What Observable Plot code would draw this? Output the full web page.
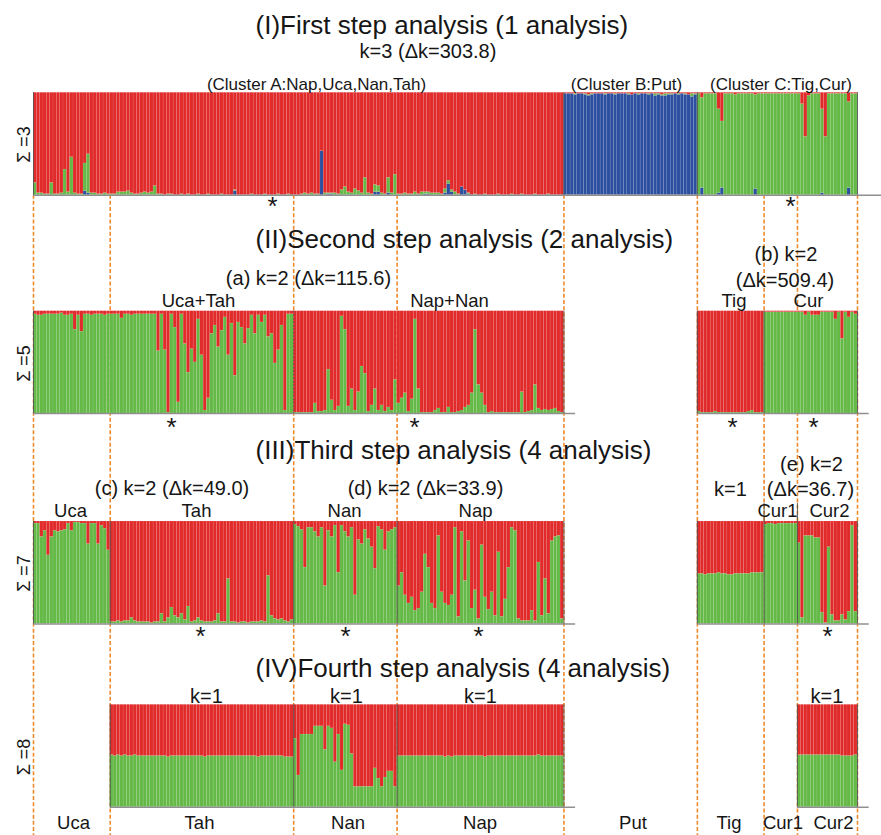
<!DOCTYPE html>
<html>
<head>
<meta charset="utf-8">
<script src="https://cdn.jsdelivr.net/npm/d3@7"></script>
<script src="https://cdn.jsdelivr.net/npm/@observablehq/plot@0.6"></script>
<style>html,body{margin:0;padding:0;background:#fff;overflow:hidden}</style>
</head>
<body>
<div id="chart"></div>
<script>
// ---------------- DATA ----------------
const populations = ["Uca", "Tah", "Nan", "Nap", "Put", "Tig", "Cur1", "Cur2"];
const popSizes = [23, 55, 31, 50, 40, 20, 10, 18];

// Step I (K=3), percent membership per individual (red = remainder)
const step1Green = [
  12,2,2,1,1,12,1,1,2,25, 3,37,2,1,1,27,38,2,2,1, 1,2,1,1,1,3,3,3,4,2, 1,1,2,3,2,3,9,1,
  1,0,1,1,0,0,1,0,1,0, 0,1,0,0,1,0,0,0,1,0, 0,0,1,0,0,0,0,1,0,0, 0,1,0,0,0,1,0,0,1,0, 0,0,
  1,2,1,2,1,1,0,2,1,1, 2,1,5,8,3,2,6,4,2,17, 2,1,7,6,2,1,15,2,20,1, 1,2,1,1,3,1,3,2,2,2, 2,2,1,4,3,2,3,1,0,0, 1,
  0,1,0,0,1,0,0,0,1,0, 0,0,1,0,0,1,0,0,0,1, 0,0,0,1,0,0,0,0,
  0,0,0,1,0,0,1,1,1,0, 0,0,1,0,0,1,0,0,0,1, 0,0,1,0,0,1,0,2,1,1, 2,1,1,0,1,0,1,0,3,1,
  99,88,99,99,99,99,82,65,99,99, 99,98,99,99,99,99,99,92,99,99, 99,99,99,99,99,99,99,99,99,99,
  99,89,57,97,99,99,99,82,57,99, 99,99,99,99,99,84,99,99
];
const step1Blue = [
  0,0,0,0,0,0,0,0,0,0, 0,0,0,0,0,4,2,0,0,0, 0,0,0,0,0,0,0,0,0,0, 0,0,0,0,0,0,0,0,0,0,
  0,0,0,0,0,0,0,0,0,0, 0,0,0,0,0,0,0,0,0,0, 4,0,0,0,0,0,0,0,0,0, 0,0,0,0,0,0,0,0,0,0,
  0,0,0,0,0,0,43,0,1,1, 0,0,0,0,0,0,0,0,0,0, 0,0,3,3,0,0,2,0,0,0, 0,0,0,0,0,0,0,1,1,0,
  0,0,0,2,11,3,0,0,8,5, 1,0,0,0,0,0,0,0,0,0, 0,0,0,0,0,0,0,0,0,0, 0,0,0,0,0,0,0,0,0,
  99,99,99,98,99,99,98,97,98,99, 99,99,98,99,99,98,99,99,99,98, 98,99,98,99,99,98,99,97,98,97, 97,98,98,99,98,99,98,98,96,98,
  0,7,0,0,0,0,2,7,0,0, 0,0,0,0,0,0,0,6,0,0, 0,0,0,0,0,0,0,0,0,0, 0,0,0,0,0,0,0,2,0,0, 0,0,0,0,0,7,0,0
];

// Step II (K=2), green percent
const step2UcaTah = [97,96,96,97,97,97,97,97,98,96, 96,97,82,96,80,97,97,96,97,97, 97,96,97,97,97,97,93,97,97,96,
  97,97,97,97,97,97,97,61,97,62, 1,97,84,11,97,68,40,63,50,92, 57,3,15,78,86,65,81,94,57,88,
  37,89,84,68,83,96,78,96,89,96, 75,78,49,62,86,3,97,97];
const step2NanNap = [1,1,1,1,1,1,10,2,2,3, 43,13,3,7,95,82,7,24,3,21, 46,39,2,8,24,3,8,2,6,3,
  33,10,15,20,2,14,92,24,1,1, 1,1,3,5,1,1,6,1,1,2, 3,6,8,20,82,28,20,8,1,2,
  1,1,1,1,1,1,1,1,21,1, 2,3,28,5,3,4,3,4,5,2, 1];
const step2Tig = [2,1,1,1,1,2,1,1,1,1, 1,1,1,1,1,2,3,1,1,1];
const step2Cur = [99,99,99,99,99,99,99,99,99,99, 99,99,96,99,96,96,96,99,99,99, 99,92,99,73,99,94,99,97];

// Step III, green percent
const step3Uca = [98,98,85,91,67,85,91,90,91,92, 98,91,99,99,98,98,78,98,98,78, 96,93,72];
const step3Tah = [2,2,3,2,3,3,6,3,2,2, 2,2,1,2,2,10,2,6,16,8, 6,10,4,17,2,3,6,3,2,2,
  2,3,10,2,2,44,2,2,1,2, 2,1,2,2,2,3,2,47,8,5, 4,5,3,2,4];
const step3Nan = [97,95,92,55,94,94,90,85,94,37, 91,85,96,50,96,90,85,94,28,82, 78,92,83,75,54,95,92,72,90,92, 94];
const step3Nap = [37,50,28,20,26,13,15,31,68,55, 20,15,86,31,20,18,28,94,7,90, 42,81,15,33,5,77,26,14,31,8,
  70,7,24,55,94,91,5,3,3,3, 13,3,60,8,44,10,81,85,86,5];
const step3Tig = [49,49,48,49,49,49,50,49,49,48, 48,49,49,49,49,49,50,50,50,50];
const step3Cur1 = [97,98,98,97,98,98,98,98,98,98];
const step3Cur2 = [79,6,86,86,86,84,84,11,1,75, 9,3,3,9,4,12,96,12];

// Step IV (K=1), green percent
const step4Tah = [51,50,51,50,51,50,50,51,50,50, 50,50,50,50,50,50,50,49,50,50, 50,50,50,50,50,50,50,50,49,50,
  50,50,50,50,50,50,50,50,50,50, 50,50,50,50,49,50,50,50,50,50, 50,50,49,49,49];
const step4Nan = [67,31,71,71,71,71,79,79,79,56, 79,77,44,71,36,81,80,52,20,20, 20,20,20,20,38,28,20,29,35,35, 20];
const step4Nap = [50,50,50,50,50,50,50,50,50,50, 50,50,50,50,49,50,49,50,50,50, 50,50,50,50,50,50,49,50,50,50,
  50,50,50,50,50,50,50,50,50,50, 50,50,51,50,50,50,50,50,50,50];
const step4Cur2 = [51,51,51,51,51,51,51,51,51,51, 51,51,51,50,50,50,50,51];

// analyses: row, first population of block, values
const blocks = [
  [1, "Uca", step2UcaTah], [1, "Nan", step2NanNap], [1, "Tig", step2Tig], [1, "Cur1", step2Cur],
  [2, "Uca", step3Uca], [2, "Tah", step3Tah], [2, "Nan", step3Nan], [2, "Nap", step3Nap],
  [2, "Tig", step3Tig], [2, "Cur1", step3Cur1], [2, "Cur2", step3Cur2],
  [3, "Tah", step4Tah], [3, "Nan", step4Nan], [3, "Nap", step4Nap], [3, "Cur2", step4Cur2]
];
const rowEdges = [
  ["Uca", "Put", "Tig", "end"],
  ["Uca", "Put", "Tig", "Cur1", "end"],
  ["Uca", "Tah", "Nan", "Nap", "Put", "Tig", "Cur1", "Cur2", "end"],
  ["Tah", "Nan", "Nap", "Put", "Cur2", "end"]
];
const rowDottedEdges = [[], ["Nan"], [], []];
const rowBases = [
  [["Uca", "edge"]],
  [["Uca", "Put"], ["Tig", "end"]],
  [["Uca", "Put"], ["Tig", "end"]],
  [["Tah", "Put"], ["Cur2", "end"]]
];

// ---------------- LAYOUT (row tops in row-height units) ----------------
const rowTop = [0.901, 3.034, 5.088, 6.878];
const yMax = 835 / 102.4;

// ---------------- BUILD ----------------
const popStart = {};
let acc = 0;
populations.forEach((p, i) => { popStart[p] = acc; acc += popSizes[i]; });
popStart.end = acc;
const N = acc;
popStart.edge = N + 7.3;

const yOf = (row, pct) => rowTop[row] + 1 - pct / 100;
const segs = [];
function push(row, i, lo, hi, k) {
  if (hi > lo) segs.push({x1: i, x2: i + 1, y1: yOf(row, lo), y2: yOf(row, hi), k});
}
for (let i = 0; i < N; i++) {
  const b = step1Blue[i], g = step1Green[i];
  push(0, i, 0, b, "K3");
  push(0, i, b, b + g, "K2");
  push(0, i, b + g, 100, "K1");
}
for (const [row, pop, vals] of blocks) {
  const s = popStart[pop];
  vals.forEach((g, j) => {
    push(row, s + j, 0, g, "K2");
    push(row, s + j, g, 100, "K1");
  });
}
const edges = rowEdges.flatMap((list, row) => list.map(p => ({x: popStart[p], row})));
const dotted = rowDottedEdges.flatMap((list, row) => list.map(p => ({x: popStart[p], row})));
const bases = rowBases.flatMap((list, row) => list.map(([a, b]) => ({a: popStart[a], b: popStart[b] + (b === "edge" ? 0 : 3.5), row})));
const orangeAt = populations.map(p => popStart[p]).concat([N]);

const FONT = "'Liberation Sans', Arial, Helvetica, sans-serif";
function label(str, px, py, opts = {}) {
  return Plot.text([str], {text: d => d, frameAnchor: "top-left", dx: px, dy: py + 1,
    textAnchor: "middle", lineAnchor: "middle", fontSize: 18.5, fill: "#161616", ...opts});
}
function star(px, py) { return label("*", px, py + 3, {fontSize: 26}); }

const chart = Plot.plot({
  width: 881, height: 835,
  marginTop: 0, marginRight: 0, marginBottom: 0, marginLeft: 0,
  x: {domain: [0, N], range: [33, 857], axis: null},
  y: {domain: [0, yMax], range: [0, 835], axis: null},
  color: {domain: ["K1", "K2", "K3"], range: ["#e12a2a", "#64b947", "#2d4fa0"]},
  style: {fontFamily: FONT, background: "#fff"},
  marks: [
    Plot.ruleX(orangeAt, {x: d => d, y1: rowTop[0] + 1, y2: yMax, stroke: "#ef8a2c", strokeWidth: 1.6, strokeDasharray: "4,2.2"}),
    Plot.rect(segs, {x1: "x1", x2: "x2", y1: "y1", y2: "y2", fill: "k", stroke: "#ffffff", strokeOpacity: 0.16, strokeWidth: 0.5}),
    Plot.ruleY(bases, {x1: "a", x2: "b", y: d => rowTop[d.row] + 1, stroke: "#8f8f8f", strokeWidth: 1.5}),
    Plot.ruleX(edges, {x: "x", y1: d => rowTop[d.row], y2: d => rowTop[d.row] + 1, stroke: "#555", strokeWidth: 0.9}),
    Plot.ruleX(dotted, {x: "x", y1: d => rowTop[d.row], y2: d => rowTop[d.row] + 1, stroke: "#555", strokeWidth: 1, strokeDasharray: "2,1.5"}),
    Plot.ruleX([popStart.Cur1, popStart.Cur2], {x: d => d, y1: rowTop[2] - 0.176, y2: rowTop[2], stroke: "#555", strokeWidth: 0.9}),

    // titles
    label("(I)First step analysis (1 analysis)", 255, 24, {fontSize: 26, textAnchor: "start"}),
    label("(II)Second step analysis (2 analysis)", 255, 238.5, {fontSize: 26, textAnchor: "start"}),
    label("(III)Third step analysis (4 analysis)", 255, 449.5, {fontSize: 26, textAnchor: "start"}),
    label("(IV)Fourth step analysis (4 analysis)", 255, 667, {fontSize: 26, textAnchor: "start"}),

    // sub headings
    label("k=3 (\u0394k=303.8)", 427.5, 50.5, {fontSize: 20}),
    label("(Cluster A:Nap,Uca,Nan,Tah)", 316, 83, {fontSize: 17}),
    label("(Cluster B:Put)", 626, 83, {fontSize: 17}),
    label("(Cluster C:Tig,Cur)", 780.5, 83, {fontSize: 17}),
    label("(a) k=2 (\u0394k=115.6)", 308, 277, {fontSize: 20}),
    label("(b) k=2", 785.5, 253, {fontSize: 20}),
    label("(\u0394k=509.4)", 784.5, 279, {fontSize: 20}),
    label("(c) k=2 (\u0394k=49.0)", 171.5, 487, {fontSize: 20}),
    label("(d) k=2 (\u0394k=33.9)", 425, 487, {fontSize: 20}),
    label("k=1", 730, 488, {fontSize: 20}),
    label("(e) k=2", 811, 463.5, {fontSize: 20}),
    label("(\u0394k=36.7)", 810, 488, {fontSize: 20}),
    label("k=1", 206, 695, {fontSize: 20}),
    label("k=1", 346, 695, {fontSize: 20}),
    label("k=1", 480, 695, {fontSize: 20}),
    label("k=1", 826.5, 695, {fontSize: 20}),

    // group labels
    label("Uca+Tah", 198, 300), label("Nap+Nan", 449, 300), label("Tig", 733.5, 300), label("Cur", 808, 300),
    label("Uca", 70, 510), label("Tah", 196, 510), label("Nan", 344, 510), label("Nap", 475, 510),
    label("Cur1", 777, 510), label("Cur2", 829, 510),
    label("Uca", 73, 822), label("Tah", 199, 822), label("Nan", 347.5, 822), label("Nap", 479.5, 822),
    label("Put", 632.5, 822), label("Tig", 728.5, 822), label("Cur1", 782.5, 822), label("Cur2", 833, 822),

    // stars
    star(272, 202), star(790, 202),
    star(171, 423), star(414, 423), star(732, 423), star(813, 423),
    star(200, 632), star(345, 632), star(478, 632), star(827, 632),

    // Sigma labels
    label("\u03A3 =3", 24, 143, {fontSize: 18, rotate: -90}),
    label("\u03A3 =5", 24, 362, {fontSize: 18, rotate: -90}),
    label("\u03A3 =7", 24, 572, {fontSize: 18, rotate: -90}),
    label("\u03A3 =8", 24, 755.5, {fontSize: 18, rotate: -90})
  ]
});
document.getElementById("chart").appendChild(chart);
</script>
</body>
</html>
